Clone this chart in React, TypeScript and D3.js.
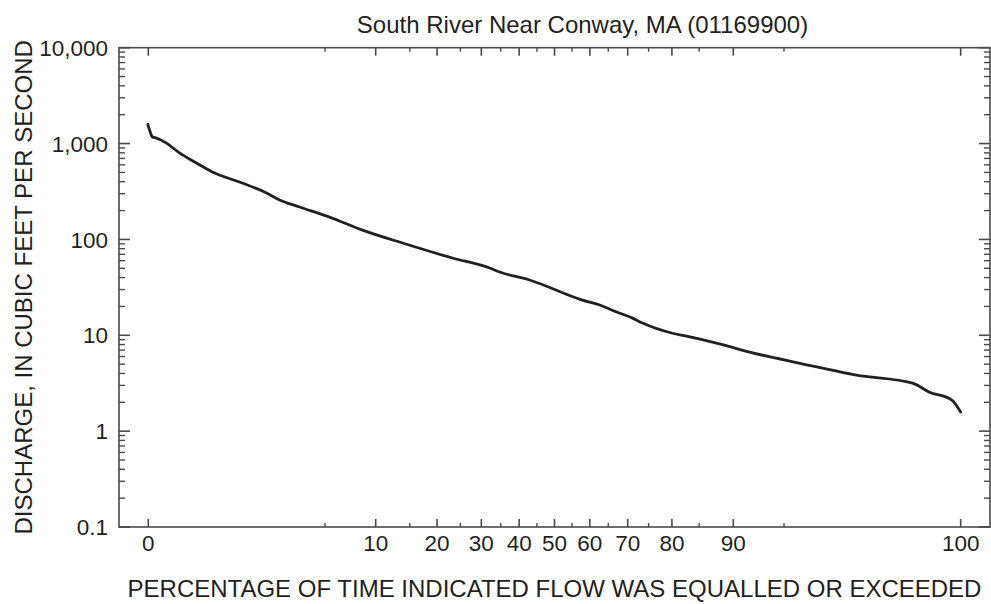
import React from "react";
import * as d3 from "d3";

// ---- Data ----
const exceedancePct = [
  0.178, 0.185, 0.198, 0.217, 0.271, 0.359, 0.514, 0.71, 1.26, 1.95, 2.44, 3.38,
  5.34, 8.44, 13.8, 23.2, 32.1, 34.7, 42.9, 57.9, 62.7, 67.2, 71.2, 73.6, 80.1,
  82.8, 87.7, 91.9, 96.0, 98.48, 99.486, 99.64, 99.78, 99.82,
];
const dischargeCfs = [
  1590, 1390, 1170, 1140, 1010, 800, 627, 505, 388, 305, 258, 218,
  171, 125, 91.7, 64.0, 50.3, 45.7, 37.7, 23.3, 20.7, 17.5, 15.1, 13.4, 10.5,
  9.8, 8.3, 6.68, 5.13, 3.84, 3.17, 2.55, 2.11, 1.58,
];
const xMajorTickPct = [0.18, 10, 20, 30, 40, 50, 60, 70, 80, 90, 99.82];
const xMajorTickLabels = ["0", "10", "20", "30", "40", "50", "60", "70", "80", "90", "100"];
const xMinorTickPct = [5, 15, 25, 35, 45, 55, 65, 75, 85, 95];
const yMajorTicks = [0.1, 1, 10, 100, 1000, 10000];
const yMajorTickLabels = ["0.1", "1", "10", "100", "1,000", "10,000"];
const titleText = "South River Near Conway, MA (01169900)";
const xTitleText = "PERCENTAGE OF TIME INDICATED FLOW WAS EQUALLED OR EXCEEDED";
const yTitleText = "DISCHARGE, IN CUBIC FEET PER SECOND";

// inverse standard normal CDF (Acklam)
function probit(p: number): number {
  const a = [-3.969683028665376e1, 2.209460984245205e2, -2.759285104469687e2, 1.38357751867269e2, -3.066479806614716e1, 2.506628277459239];
  const b = [-5.447609879822406e1, 1.615858368580409e2, -1.556989798598866e2, 6.680131188771972e1, -1.328068155288572e1];
  const c = [-7.784894002430293e-3, -3.223964580411365e-1, -2.400758277161838, -2.549671664060019, 4.374664141464968, 2.938163982698783];
  const d = [7.784695709041462e-3, 3.224671290700398e-1, 2.445134137142996, 3.754408661907416];
  const plow = 0.02425;
  const phigh = 1 - plow;
  if (p < plow) {
    const q = Math.sqrt(-2 * Math.log(p));
    return (((((c[0] * q + c[1]) * q + c[2]) * q + c[3]) * q + c[4]) * q + c[5]) /
      ((((d[0] * q + d[1]) * q + d[2]) * q + d[3]) * q + 1);
  }
  if (p <= phigh) {
    const q = p - 0.5;
    const r = q * q;
    return ((((((a[0] * r + a[1]) * r + a[2]) * r + a[3]) * r + a[4]) * r + a[5]) * q) /
      (((((b[0] * r + b[1]) * r + b[2]) * r + b[3]) * r + b[4]) * r + 1);
  }
  const q = Math.sqrt(-2 * Math.log(1 - p));
  return -(((((c[0] * q + c[1]) * q + c[2]) * q + c[3]) * q + c[4]) * q + c[5]) /
    ((((d[0] * q + d[1]) * q + d[2]) * q + d[3]) * q + 1);
}

const W = 991;
const H = 604;
const left = 119;
const right = 990;
const top = 47.7;
const bottom = 527;

const font = "'Liberation Sans', Arial, Helvetica, sans-serif";
const ink = "#231f20";
const axisColor = "#4a4a4a";

export default function App() {
  const zScale = d3.scaleLinear().domain([probit(0.0009), probit(0.9991)]).range([left, right]);
  const xp = (pct: number) => zScale(probit(pct / 100));
  const y = d3.scaleLog().domain([0.1, 10000]).range([bottom, top]);

  const pts: [number, number][] = exceedancePct.map((p, i) => [p, dischargeCfs[i]]);
  const line = d3
    .line<[number, number]>()
    .x((d) => xp(d[0]))
    .y((d) => y(d[1]))
    .curve(d3.curveMonotoneX);

  const yMinor: number[] = [];
  for (let k = 0; k < yMajorTicks.length - 1; k++) {
    for (let m = 2; m <= 9; m++) yMinor.push(yMajorTicks[k] * m);
  }

  return (
    <svg
      width={W}
      height={H}
      style={{ position: "absolute", left: 0, top: 0, background: "#fff" }}
      fontFamily={font}
    >
      <rect x={0} y={0} width={W} height={H} fill="#fff" />
      {/* title */}
      <text x={582.5} y={33} textAnchor="middle" fontSize={24} fill={ink}>
        {titleText}
      </text>

      {/* frame */}
      <rect x={left} y={top} width={right - left} height={bottom - top} fill="none" stroke={axisColor} strokeWidth={1.6} />

      {/* y ticks */}
      {yMajorTicks.map((v, i) => (
        <g key={"ym" + i}>
          <line x1={left} x2={left + 11} y1={y(v)} y2={y(v)} stroke={axisColor} strokeWidth={1.6} />
          <line x1={right} x2={right - 11} y1={y(v)} y2={y(v)} stroke={axisColor} strokeWidth={1.6} />
          <text x={108} y={y(v)} dy="0.36em" textAnchor="end" fontSize={22.5} fill={ink}>
            {yMajorTickLabels[i]}
          </text>
        </g>
      ))}
      {yMinor.map((v, i) => (
        <g key={"yn" + i}>
          <line x1={left} x2={left + 6} y1={y(v)} y2={y(v)} stroke={axisColor} strokeWidth={1.4} />
          <line x1={right} x2={right - 6} y1={y(v)} y2={y(v)} stroke={axisColor} strokeWidth={1.4} />
        </g>
      ))}

      {/* x ticks */}
      {xMajorTickPct.map((p, i) => (
        <g key={"xm" + i}>
          <line x1={xp(p)} x2={xp(p)} y1={bottom} y2={bottom - 8} stroke={axisColor} strokeWidth={1.6} />
          <line x1={xp(p)} x2={xp(p)} y1={top} y2={top + 8} stroke={axisColor} strokeWidth={1.6} />
          <text x={xp(p)} y={551} textAnchor="middle" fontSize={22.5} fill={ink}>
            {xMajorTickLabels[i]}
          </text>
        </g>
      ))}
      {xMinorTickPct.map((p, i) => (
        <g key={"xn" + i}>
          <line x1={xp(p)} x2={xp(p)} y1={bottom} y2={bottom - 4} stroke={axisColor} strokeWidth={1.4} />
          <line x1={xp(p)} x2={xp(p)} y1={top} y2={top + 4} stroke={axisColor} strokeWidth={1.4} />
        </g>
      ))}

      {/* data line */}
      <path d={line(pts) || ""} fill="none" stroke={ink} strokeWidth={2.8} strokeLinejoin="round" strokeLinecap="round" />

      {/* axis titles */}
      <text x={554.5} y={597} textAnchor="middle" fontSize={24} fill={ink}>
        {xTitleText}
      </text>
      <text transform={`translate(31.5, ${(top + bottom) / 2}) rotate(-90)`} textAnchor="middle" fontSize={24} fill={ink}>
        {yTitleText}
      </text>
    </svg>
  );
}
